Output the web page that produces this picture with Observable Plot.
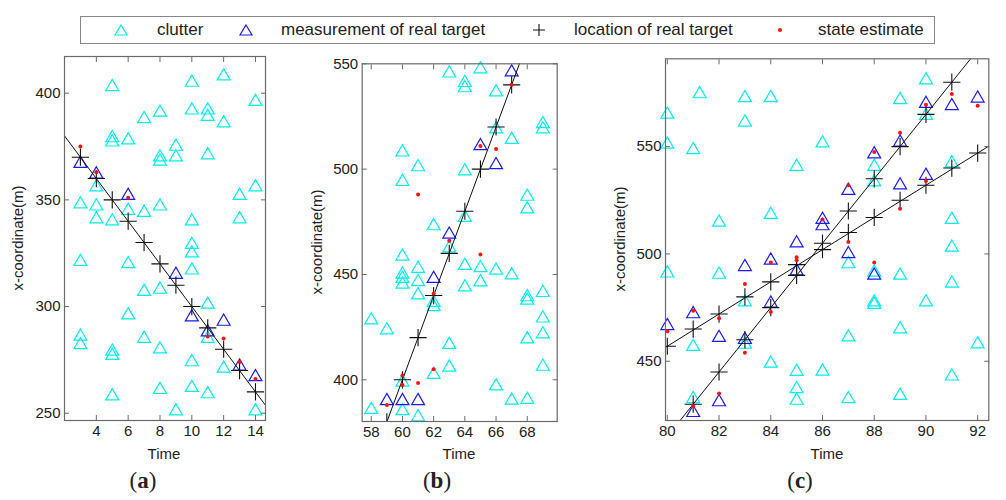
<!DOCTYPE html>
<html><head><meta charset="utf-8">
<script src="https://cdn.jsdelivr.net/npm/d3@7"></script>
<script src="https://cdn.jsdelivr.net/npm/@observablehq/plot@0.6"></script>
<style>
body{margin:0;background:#fff;}
#wrap{position:relative;width:1006px;height:500px;font-family:"Liberation Sans",Arial,sans-serif;color:#222;overflow:hidden;}
.abs{position:absolute;}
.ylab{position:absolute;font-size:15px;transform:translate(-50%,-50%) rotate(-90deg);white-space:nowrap;}
.xlab{position:absolute;font-size:15px;transform:translate(-50%,-50%);white-space:nowrap;}
.plab{position:absolute;font-family:"Liberation Serif","Times New Roman",serif;font-size:23px;transform:translate(-50%,-50%);}
#legend{position:absolute;left:80px;top:16px;width:855px;height:28px;border:1px solid #888;box-sizing:border-box;font-size:17px;}
#legend span, #legend svg{position:absolute;}
#legend span{top:50%;transform:translateY(-50%);white-space:nowrap;}
</style></head><body><div id="wrap"></div>
<script>
// ---------- Panel (a) ----------
const truthA = [[3,370],[4,360],[5,350],[6,340],[7,330],[8,320],[9,310],[10,300],[11,290],[12,280],[13,270],[14,260]];
const measA = [[3,367],[4,362],[6,352],[9,315],[10,295],[11,288],[12,293],[13,272],[14,267]];
const estA = [[3,375],[4,363],[6,351],[11,286],[12,285],[13,274],[14,266]];
const clutterA = [[5,403],[10,405],[12,408],[14,396],[7,388],[8,391],[10,392],[11,392],[11,389],[12,386],
  [5,379],[5,377],[6,378],[9,375],[9,370],[8,370],[8,368],[11,371],[4,356],[3,348],[4,347],[4,341],[5,340],
  [6,345],[7,344],[8,347],[10,340],[10,329],[13,352],[13,341],[14,356],[10,325],[10,317],[3,321],[6,320],
  [7,307],[8,308],[11,301],[6,296],[3,286],[3,282],[7,285],[5,279],[5,277],[8,280],[11,285],[10,274],
  [12,271],[5,258],[8,261],[10,262],[11,259],[9,251],[14,251]];
const xTicksA = [4,6,8,10,12,14];
const yTicksA = [250,300,350,400];

// ---------- Panel (b) ----------
const truthB = [[59,380],[60,400],[61,420],[62,440],[63,460],[64,480],[65,500],[66,520],[67,540]];
const measB = [[59,390],[60,390],[61,390],[62,448],[63,469],[65,511],[66,502],[67,546]];
const estB = [[59,388],[60,402],[60,397.5],[61,398.5],[62,441],[62,405],[63,466],[65,459.5],[61,488],[65,511],[66,509.5],[67,540]];
const clutterB = [[63,545.5],[64,541],[64,538.5],[65,547.5],[66,536.5],[66,519],[67,514],[69,521.5],[69,519],
  [60,508],[60,494],[61,501],[64,499],[64,477],[68,487],[68,481],[62,473],[63,462.5],[60,458.6],[60,450],
  [60,448],[60,445.3],[61,452.8],[61,446.5],[61,440.2],[62,436.6],[62,434.6],[64,454.2],[64,444],[65,453.1],
  [65,446.4],[66,451.9],[67,449.7],[68,439.3],[68,437.7],[69,441.3],[69,429.2],[69,421.7],[69,406.3],
  [58,428.3],[59,423.6],[68,419.3],[63,416.7],[63,405.9],[62,402.4],[60,398.8],[60,385.2],[66,397],
  [67,390.2],[68,390.6],[58,385.8],[61,382.3]];
const xTicksB = [58,60,62,64,66,68];
const yTicksB = [400,450,500,550];

// ---------- Panel (c) ----------
const truthC1 = [[80,457],[81,465],[82,472],[83,480],[84,487],[85,495],[86,502],[87,510],[88,517],[89,525],[90,532],[91,540],[92,547]];
const truthC2 = [[81,430],[82,445],[83,460],[84,475],[85,490],[86,505],[87,520],[88,535],[89,550],[90,565],[91,580]];
const measC = [[80,466.5],[81,472],[81,426],[82,461],[82,431],[83,494],[83,460],[84,497],[84,477],[85,505],
  [85,492],[86,516],[86,513],[87,529.5],[87,500],[88,546.5],[88,490],[89,552],[89,532],[90,570],[90,536.5],
  [91,569],[92,572.5]];
const estC = [[80,464],[81,473.5],[81,429],[82,470],[82,435],[83,486],[83,454],[84,496],[84,473],[85,498.5],
  [85,497],[86,516],[87,532],[87,505.5],[88,547.5],[88,496],[89,556.5],[89,521],[90,569.5],[90,534],
  [91,574.5],[92,569]];
const clutterC = [[80,565],[80,551],[81,548.5],[81.25,574.5],[83,572.7],[84,572.7],[83,561.3],[85,540.7],
  [82,514.7],[84,518.3],[90,581],[89,571.8],[90,564.4],[86,551.6],[88,540.7],[88,533.4],[91,542.3],[91,516],
  [91,503],[80,491],[82,490.4],[83,477.5],[81,456.8],[83,457.8],[84,449],[85,445.2],[85,437.1],[85,431.7],
  [81,432.5],[87,495.3],[88,491.4],[89,490],[91,486.3],[88,477.5],[88,476.4],[90,477.5],[89,465],[87,461.2],
  [92,458],[86,445.3],[91,443],[87,432.5],[89,434]];
const xTicksC = [80,82,84,86,88,90,92];
const yTicksC = [450,500,550];

const legendLabels = ["clutter","measurement of real target","location of real target","state estimate"];
const axisTitleY = "x-coordinate(m)";
const axisTitleX = "Time";

const CYAN = "#00f0f0", BLUE = "#1a1aff", RED = "#ff1010";

function extendLine(pts, dom) {
  const [t0, v0] = pts[0], [t1, v1] = pts[pts.length - 1];
  const k = (v1 - v0) / (t1 - t0);
  return dom.map(t => [t, v0 + k * (t - t0)]);
}

function panel(cfg) {
  const X = d => d[0], Y = d => d[1];
  const marks = [
    Plot.dot(cfg.clutter, {x: X, y: Y, symbol: "triangle", r: 4.8, stroke: CYAN, strokeWidth: 1.2, fill: "none"}),
    Plot.dot(cfg.meas, {x: X, y: Y, symbol: "triangle", r: 4.8, stroke: BLUE, strokeWidth: 1.2, fill: "none"}),
  ];
  for (const tr of cfg.truths) {
    marks.push(Plot.line(extendLine(tr, cfg.xDomain), {x: X, y: Y, stroke: "#111", strokeWidth: 1, clip: true}));
    marks.push(Plot.dot(tr, {x: X, y: Y, symbol: "plus", r: 5.6, stroke: "#111", strokeWidth: 1.1, clip: true}));
  }
  marks.push(Plot.dot(cfg.est, {x: X, y: Y, r: 2, fill: RED, stroke: "none"}));
  marks.push(Plot.frame({stroke: "#6a6a6a", strokeWidth: 1.2}));
  marks.push(Plot.axisX(cfg.xTicks, {anchor: "bottom", tickSize: -5, tickPadding: 10, label: null, stroke: "#6a6a6a", fill: "#222"}));
  marks.push(Plot.axisX(cfg.xTicks, {anchor: "top", tickSize: -5, tickFormat: () => "", label: null, stroke: "#6a6a6a"}));
  marks.push(Plot.axisY(cfg.yTicks, {anchor: "left", tickSize: -5, tickPadding: 9, label: null, stroke: "#6a6a6a", fill: "#222"}));
  marks.push(Plot.axisY(cfg.yTicks, {anchor: "right", tickSize: -5, tickFormat: () => "", label: null, stroke: "#6a6a6a"}));
  const svg = Plot.plot({
    width: cfg.width, height: cfg.height,
    marginLeft: cfg.m[0], marginRight: cfg.m[1], marginTop: cfg.m[2], marginBottom: cfg.m[3],
    x: {domain: cfg.xDomain, axis: null},
    y: {domain: cfg.yDomain, axis: null},
    style: {fontFamily: '"Liberation Sans", Arial, sans-serif', fontSize: "15px", background: "transparent", overflow: "visible", color: "#222"},
    marks
  });
  svg.style.position = "absolute";
  svg.style.left = cfg.left + "px";
  svg.style.top = cfg.top + "px";
  return svg;
}

const wrap = document.getElementById("wrap");

wrap.appendChild(panel({clutter: clutterA, meas: measA, truths: [truthA], est: estA,
  xDomain: [2, 14.63], yDomain: [246.6, 417.2], xTicks: xTicksA, yTicks: yTicksA,
  left: 0, top: 40, width: 280, height: 420, m: [64, 15, 16, 40]}));
wrap.appendChild(panel({clutter: clutterB, meas: measB, truths: [truthB], est: estB,
  xDomain: [57.42, 69.92], yDomain: [380.2, 550], xTicks: xTicksB, yTicks: yTicksB,
  left: 300, top: 40, width: 270, height: 420, m: [61.7, 13.3, 23.3, 39]}));
wrap.appendChild(panel({clutter: clutterC, meas: measC, truths: [truthC1, truthC2], est: estC,
  xDomain: [79.93, 92.43], yDomain: [422.4, 590.9], xTicks: xTicksC, yTicks: yTicksC,
  left: 590, top: 40, width: 416, height: 420, m: [75, 17.7, 18.3, 40]}));

// axis titles and panel labels
const yl = [[17, 238], [316, 242], [619, 239]];
const xl = [[164, 453], [459, 453], [827, 453]];
const pl = [["a", 143, 481], ["b", 437, 481], ["c", 800, 481]];
yl.forEach(([x, y]) => { const d = document.createElement("div"); d.className = "ylab"; d.style.left = x + "px"; d.style.top = y + "px"; d.textContent = axisTitleY; wrap.appendChild(d); });
xl.forEach(([x, y]) => { const d = document.createElement("div"); d.className = "xlab"; d.style.left = x + "px"; d.style.top = y + "px"; d.textContent = axisTitleX; wrap.appendChild(d); });
pl.forEach(([t, x, y]) => { const d = document.createElement("div"); d.className = "plab"; d.style.left = x + "px"; d.style.top = y + "px"; d.innerHTML = "(<b>" + t + "</b>)"; wrap.appendChild(d); });

// legend
const leg = document.createElement("div"); leg.id = "legend"; wrap.appendChild(leg);
const symX = [40, 165, 458, 699];
const txtX = [76, 200, 493, 737];
const symSvg = [
  '<polygon points="0,-5 6,5 -6,5" fill="none" stroke="' + CYAN + '" stroke-width="1.2"/>',
  '<polygon points="0,-5 6,5 -6,5" fill="none" stroke="' + BLUE + '" stroke-width="1.2"/>',
  '<path d="M-6,0H6M0,-6V6" stroke="#111" stroke-width="1.1"/>',
  '<circle r="2" fill="' + RED + '"/>'
];
legendLabels.forEach((lab, i) => {
  const s = document.createElementNS("http://www.w3.org/2000/svg", "svg");
  s.setAttribute("width", 16); s.setAttribute("height", 16); s.setAttribute("viewBox", "-8 -8 16 16");
  s.style.left = (symX[i] - 8) + "px"; s.style.top = "5px";
  s.innerHTML = symSvg[i];
  leg.appendChild(s);
  const sp = document.createElement("span"); sp.style.left = txtX[i] + "px"; sp.textContent = lab; leg.appendChild(sp);
});
</script>
</body></html>
